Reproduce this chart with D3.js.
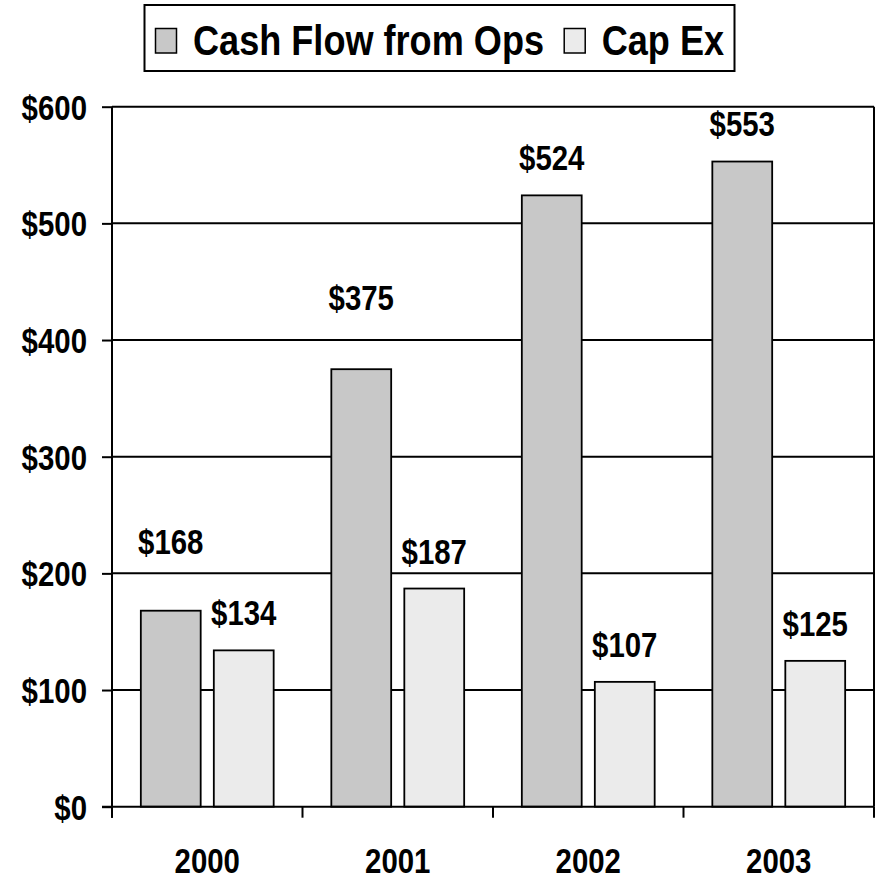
<!DOCTYPE html>
<html>
<head>
<meta charset="utf-8">
<script src="https://cdnjs.cloudflare.com/ajax/libs/d3/7.8.5/d3.min.js"></script>
<style>
  body { margin: 0; background: #fff; }
  text { font-family: "Liberation Sans", Arial, sans-serif; font-weight: bold; fill: #000; }
</style>
</head>
<body>
<div id="chart"></div>
<script>
// data
var years = ["2000", "2001", "2002", "2003"];
var seriesNames = ["Cash Flow from Ops", "Cap Ex"];
var cashFlowOps = [168, 375, 524, 553];
var capEx = [134, 187, 107, 125];
var yTicks = [0, 100, 200, 300, 400, 500, 600];
// how far each value label sits above its bar (Excel moved a couple of them)
var cfoLabelLift = [57, 59, 25, 26];
var capLabelLift = [25, 25, 25, 25];

var colors = ["#c8c8c8", "#ebebeb"];
var squeeze = 0.84; // no Arial Narrow here, so squash the bold sans

var svgWidth = 876;
var svgHeight = 881;
var margin = { top: 106.7, right: 2, bottom: 74.3, left: 112 };
var width = svgWidth - margin.left - margin.right;
var height = svgHeight - margin.top - margin.bottom;

// move x/y into a transform so the text can be narrowed
function narrow(sel) {
  sel.each(function() {
    var t = d3.select(this);
    var tx = +t.attr("x") || 0, ty = +t.attr("y") || 0;
    t.attr("x", 0).attr("y", 0)
      .attr("transform", `translate(${tx},${ty}) scale(${squeeze},1)`);
  });
}

var svg = d3.select("#chart")
  .append("svg")
  .attr("width", svgWidth)
  .attr("height", svgHeight);

var chartGroup = svg.append("g")
  .attr("transform", `translate(${margin.left}, ${margin.top})`);

var x0 = d3.scaleBand().domain(years).range([0, width]);
var x1 = d3.scaleBand().domain(seriesNames).range([0, x0.bandwidth()])
  .paddingInner(0.18).paddingOuter(0.395);
var y = d3.scaleLinear().domain([0, 600]).range([height, 0]);

// gridlines
chartGroup.selectAll(".grid")
  .data(yTicks.filter(d => d > 0))
  .enter()
  .append("line")
  .attr("x1", 0).attr("x2", width)
  .attr("y1", d => y(d)).attr("y2", d => y(d))
  .attr("stroke", "#000").attr("stroke-width", 2);

// right border of plot area
chartGroup.append("line")
  .attr("x1", width).attr("x2", width)
  .attr("y1", 0).attr("y2", height)
  .attr("stroke", "#000").attr("stroke-width", 2);

var rows = years.map((yr, i) => ({ year: yr, values: [cashFlowOps[i], capEx[i]], lifts: [cfoLabelLift[i], capLabelLift[i]] }));

var groups = chartGroup.selectAll(".yr")
  .data(rows)
  .enter()
  .append("g")
  .attr("transform", d => `translate(${x0(d.year)},0)`);

groups.selectAll("rect")
  .data(d => d.values.map((v, j) => ({ name: seriesNames[j], value: v, j: j })))
  .enter()
  .append("rect")
  .attr("x", d => x1(d.name))
  .attr("y", d => y(d.value))
  .attr("width", x1.bandwidth())
  .attr("height", d => height - y(d.value))
  .attr("fill", d => colors[d.j])
  .attr("stroke", "#000")
  .attr("stroke-width", 1.8);

var valueLabels = groups.selectAll(".lbl")
  .data(d => d.values.map((v, j) => ({ name: seriesNames[j], value: v, lift: d.lifts[j] })))
  .enter()
  .append("text")
  .attr("x", d => x1(d.name) + x1.bandwidth() / 2)
  .attr("y", d => y(d.value) - d.lift)
  .attr("text-anchor", "middle")
  .style("font-size", "35px")
  .text(d => "$" + d.value);
narrow(valueLabels);

// y axis
var leftAxis = d3.axisLeft(y).tickValues(yTicks).tickSize(10).tickPadding(15).tickFormat(d => "$" + d);
var yAxis = chartGroup.append("g").call(leftAxis);
yAxis.select(".domain").attr("stroke", "#000").attr("stroke-width", 2).attr("d", `M0,${height + 11}V0`);
yAxis.selectAll(".tick line").attr("stroke", "#000").attr("stroke-width", 2);
yAxis.selectAll(".tick text").style("font-size", "35px").attr("dy", "0.36em")
  .attr("font-family", null).attr("font-size", null);
narrow(yAxis.selectAll(".tick text"));

// x axis
var xAxisG = chartGroup.append("g").attr("transform", `translate(0,${height})`);
xAxisG.append("line")
  .attr("x1", -10).attr("x2", width)
  .attr("stroke", "#000").attr("stroke-width", 2);
xAxisG.selectAll(".xtick")
  .data(years.concat(["end"]))
  .enter()
  .append("line")
  .attr("x1", (d, i) => i * x0.step()).attr("x2", (d, i) => i * x0.step())
  .attr("y1", 0).attr("y2", 11)
  .attr("stroke", "#000").attr("stroke-width", 2);
var yearLabels = xAxisG.selectAll(".xlbl")
  .data(years)
  .enter()
  .append("text")
  .attr("x", d => x0(d) + x0.bandwidth() / 2)
  .attr("y", 66.5)
  .attr("text-anchor", "middle")
  .style("font-size", "35px")
  .text(d => d);
narrow(yearLabels);

// legend
var legend = svg.append("g");
legend.append("rect")
  .attr("x", 144.5).attr("y", 5)
  .attr("width", 590).attr("height", 66)
  .attr("fill", "#fff").attr("stroke", "#000").attr("stroke-width", 2);

var lx = 155.5;
seriesNames.forEach(function(name, j) {
  legend.append("rect")
    .attr("x", lx).attr("y", 28.5)
    .attr("width", 21).attr("height", 24.5)
    .attr("fill", colors[j]).attr("stroke", "#000").attr("stroke-width", 1.5);
  var t = legend.append("text")
    .attr("x", lx + 37.5).attr("y", 55)
    .style("font-size", "43px")
    .text(name);
  var len = t.node().getComputedTextLength() * squeeze;
  narrow(t);
  lx = lx + 37.5 + len + 20;
});
</script>
</body>
</html>
